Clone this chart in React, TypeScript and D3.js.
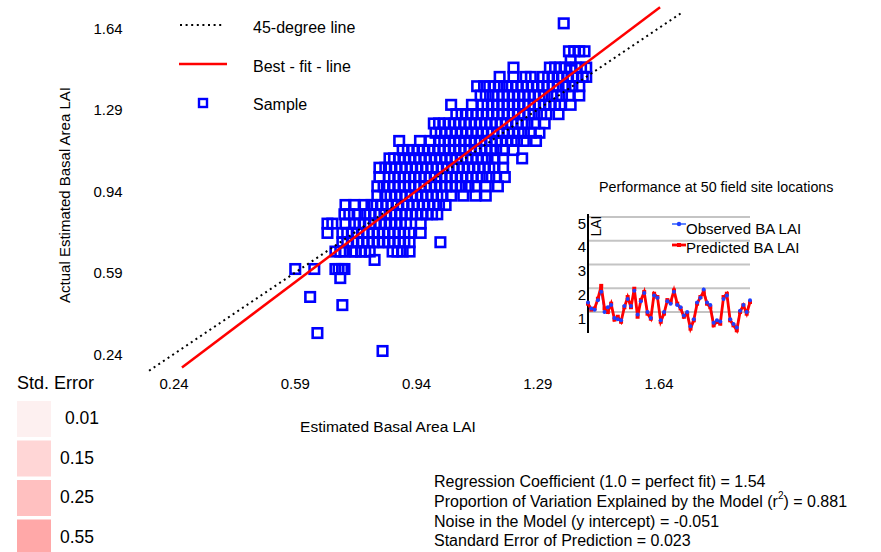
import React from "react";
import * as d3 from "d3";

const W = 881;
const H = 552;
const FONT = "'Liberation Sans', Arial, Helvetica, sans-serif";

const xTicks = [0.24, 0.59, 0.94, 1.29, 1.64];
const yTicks = [0.24, 0.59, 0.94, 1.29, 1.64];

// Sample points, grouped by row: [actual (y), estimated values (x)]
const sampleRows: [number, number[]][] = [
  [1.66, [1.365]],
  [1.54, [1.38, 1.395, 1.41, 1.425]],
  [1.5, [1.385]],
  [1.47, [1.22, 1.325, 1.34, 1.355, 1.37, 1.385, 1.4, 1.415, 1.43]],
  [1.43, [1.18, 1.22, 1.255, 1.27, 1.305, 1.32, 1.335, 1.35, 1.36, 1.375, 1.39, 1.405, 1.42, 1.43]],
  [1.39, [1.115, 1.135, 1.15, 1.165, 1.18, 1.2, 1.215, 1.23, 1.245, 1.26, 1.275, 1.29, 1.305, 1.32, 1.335, 1.35, 1.37, 1.39, 1.41]],
  [1.35, [1.125, 1.14, 1.16, 1.175, 1.19, 1.205, 1.22, 1.235, 1.25, 1.265, 1.28, 1.295, 1.31, 1.33, 1.345, 1.36, 1.38, 1.41]],
  [1.31, [1.04, 1.1, 1.13, 1.145, 1.16, 1.175, 1.19, 1.205, 1.22, 1.235, 1.25, 1.265, 1.28, 1.295, 1.31, 1.325, 1.34, 1.355, 1.385]],
  [1.27, [1.055, 1.07, 1.085, 1.1, 1.115, 1.13, 1.145, 1.16, 1.175, 1.19, 1.205, 1.22, 1.235, 1.25, 1.265, 1.28, 1.3, 1.315, 1.35]],
  [1.23, [0.99, 1.005, 1.02, 1.035, 1.05, 1.065, 1.08, 1.095, 1.11, 1.125, 1.14, 1.155, 1.17, 1.185, 1.2, 1.215, 1.23, 1.245, 1.26, 1.28, 1.31]],
  [1.19, [0.995, 1.01, 1.025, 1.04, 1.055, 1.07, 1.085, 1.1, 1.115, 1.13, 1.145, 1.16, 1.175, 1.19, 1.205, 1.22, 1.235, 1.25, 1.27, 1.295]],
  [1.155, [0.89, 0.95, 0.98, 1.005, 1.02, 1.035, 1.05, 1.065, 1.08, 1.095, 1.11, 1.125, 1.14, 1.155, 1.17, 1.185, 1.2, 1.215, 1.23, 1.25, 1.285]],
  [1.116, [0.9, 0.915, 0.93, 0.945, 0.96, 0.975, 0.99, 1.005, 1.02, 1.035, 1.05, 1.065, 1.08, 1.095, 1.11, 1.125, 1.14, 1.155, 1.17, 1.19, 1.22]],
  [1.08, [0.862, 0.875, 0.89, 0.905, 0.92, 0.935, 0.95, 0.965, 0.98, 0.995, 1.01, 1.025, 1.04, 1.055, 1.07, 1.085, 1.1, 1.115, 1.13, 1.145, 1.165, 1.19, 1.245]],
  [1.04, [0.833, 0.85, 0.865, 0.88, 0.895, 0.91, 0.925, 0.94, 0.955, 0.97, 0.985, 1.0, 1.015, 1.03, 1.045, 1.06, 1.075, 1.09, 1.105, 1.12, 1.135, 1.15, 1.165, 1.19]],
  [1.0, [0.833, 0.86, 0.875, 0.89, 0.905, 0.92, 0.935, 0.95, 0.965, 0.98, 0.995, 1.01, 1.025, 1.04, 1.055, 1.07, 1.085, 1.1, 1.115, 1.13, 1.15, 1.17, 1.195]],
  [0.96, [0.827, 0.845, 0.86, 0.875, 0.89, 0.905, 0.92, 0.935, 0.95, 0.965, 0.98, 0.995, 1.01, 1.025, 1.04, 1.055, 1.07, 1.09, 1.11, 1.14, 1.175]],
  [0.92, [0.827, 0.85, 0.865, 0.88, 0.895, 0.91, 0.925, 0.94, 0.955, 0.97, 0.985, 1.0, 1.015, 1.04, 1.075, 1.11, 1.14]],
  [0.88, [0.735, 0.76, 0.79, 0.81, 0.825, 0.84, 0.855, 0.87, 0.885, 0.9, 0.915, 0.93, 0.945, 0.96, 0.975, 0.99, 1.005, 1.024]],
  [0.84, [0.732, 0.746, 0.77, 0.79, 0.805, 0.82, 0.835, 0.85, 0.865, 0.88, 0.895, 0.91, 0.925, 0.94, 0.955, 0.97, 0.985, 1.0]],
  [0.8, [0.683, 0.697, 0.735, 0.76, 0.775, 0.79, 0.805, 0.82, 0.835, 0.85, 0.865, 0.88, 0.895, 0.91, 0.952]],
  [0.76, [0.683, 0.726, 0.74, 0.755, 0.77, 0.785, 0.8, 0.815, 0.83, 0.845, 0.86, 0.875, 0.89, 0.905, 0.92, 0.952]],
  [0.72, [0.726, 0.74, 0.755, 0.77, 0.785, 0.8, 0.815, 0.83, 0.845, 0.86, 0.875, 0.89, 0.905, 0.92, 1.009]],
  [0.68, [0.706, 0.72, 0.732, 0.755, 0.764, 0.78, 0.792, 0.805, 0.871, 0.885, 0.9, 0.92]],
  [0.644, [0.819]],
  [0.605, [0.59, 0.645, 0.706, 0.715, 0.725, 0.732]],
  [0.566, [0.72]],
  [0.485, [0.633]],
  [0.45, [0.726]],
  [0.33, [0.654]],
  [0.253, [0.842]],
];

// Reference lines
const diagRange = [0.168, 1.709];
const fitSlope = 1.121;
const fitIntercept = -0.1125;
const fitRange = [0.263, 1.643];

// Inset: performance at 50 field site locations
const insetTicks = [1, 2, 3, 4, 5];
const predicted = [1.35, 1.1, 1.15, 1.56, 2.1, 1.15, 1.0, 1.35, 0.68, 0.8, 0.59, 1.2, 1.63, 1.2, 1.98, 0.8, 1.5, 1.84, 0.93, 0.72, 1.77, 1.63, 0.59, 0.93, 1.5, 1.42, 1.91, 1.35, 1.15, 0.8, 0.93, 0.3, 0.65, 1.35, 1.63, 1.84, 1.35, 1.2, 0.44, 0.59, 0.51, 1.63, 1.77, 0.65, 0.44, 0.23, 1.0, 1.28, 0.93, 1.42];
const observed = [1.4, 1.15, 1.1, 1.5, 1.85, 1.0, 1.2, 1.3, 0.75, 0.7, 0.65, 1.25, 1.55, 1.25, 1.9, 0.9, 1.45, 1.8, 1.0, 0.75, 1.7, 1.6, 0.65, 1.0, 1.45, 1.35, 1.85, 1.3, 1.2, 0.85, 1.0, 0.4, 0.7, 1.4, 1.6, 1.95, 1.4, 1.3, 0.55, 0.65, 0.6, 1.55, 1.7, 0.7, 0.5, 0.35, 1.05, 1.3, 1.0, 1.5];

// Std. error legend
const seLabels = ["0.01", "0.15", "0.25", "0.55"];
const seColors = ["#fdf0f0", "#ffd6d6", "#ffc0c0", "#ffa8a8"];

export default function App() {
  const x = d3.scaleLinear().domain([0.24, 1.64]).range([174, 659]);
  const y = d3.scaleLinear().domain([0.24, 1.64]).range([354, 28]);

  const samples: [number, number][] = [];
  sampleRows.forEach(([yv, xs]) => xs.forEach((xv) => samples.push([xv, yv])));

  const line = d3
    .line<[number, number]>()
    .x((d) => x(d[0]))
    .y((d) => y(d[1]));
  const diag: [number, number][] = diagRange.map((v) => [v, v]);
  const fit: [number, number][] = fitRange.map((v) => [v, fitSlope * v + fitIntercept]);

  const ix = d3.scaleLinear().domain([0, 49]).range([588, 750]);
  const iy = d3.scaleLinear().domain([1, 5]).range([312, 217]);
  const iline = d3
    .line<number>()
    .x((_, i) => ix(i))
    .y((d) => iy(d));

  const sq = 9.5;

  return (
    <svg
      width={W}
      height={H}
      style={{ position: "absolute", left: 0, top: 0, background: "#fff" }}
      fontFamily={FONT}
    >
      <rect x={0} y={0} width={W} height={H} fill="#fff" />

      {/* samples */}
      <g fill="none" stroke="#0000ff" strokeWidth={2.6}>
        {samples.map((d, i) => (
          <rect key={i} x={x(d[0]) - sq / 2} y={y(d[1]) - sq / 2} width={sq} height={sq} />
        ))}
      </g>

      {/* lines */}
      <path d={line(diag) || ""} fill="none" stroke="#000" strokeWidth={2} strokeDasharray="2 3.6" />
      <path d={line(fit) || ""} fill="none" stroke="#ff0000" strokeWidth={2.5} />

      {/* ticks */}
      <g fontSize={15} fill="#000">
        {yTicks.map((t) => (
          <text key={"y" + t} x={108} y={y(t)} textAnchor="middle" dominantBaseline="central">
            {t.toFixed(2)}
          </text>
        ))}
        {xTicks.map((t) => (
          <text key={"x" + t} x={x(t)} y={383} textAnchor="middle" dominantBaseline="central">
            {t.toFixed(2)}
          </text>
        ))}
      </g>
      <text x={388} y={426} fontSize={15.5} textAnchor="middle" dominantBaseline="central">
        Estimated Basal Area LAI
      </text>
      <text
        transform="translate(64,195) rotate(-90)"
        fontSize={15}
        textAnchor="middle"
        dominantBaseline="central"
      >
        Actual Estimated Basal Area LAI
      </text>

      {/* top-left legend */}
      <g fontSize={16}>
        <line x1={180} x2={222} y1={25} y2={25} stroke="#000" strokeWidth={2} strokeDasharray="2 3.6" />
        <text x={253} y={27} dominantBaseline="central">45-degree line</text>
        <line x1={179} x2={227} y1={64} y2={64} stroke="#ff0000" strokeWidth={2.5} />
        <text x={253} y={66} dominantBaseline="central">Best - fit - line</text>
        <rect x={199} y={99} width={8} height={8} fill="none" stroke="#0000ff" strokeWidth={2.4} />
        <text x={253} y={104} dominantBaseline="central">Sample</text>
      </g>

      {/* inset */}
      <text x={599} y={187} fontSize={14.3} dominantBaseline="central">
        Performance at 50 field site locations
      </text>
      {insetTicks.map((t) => (
        <line key={"g" + t} x1={588} x2={750} y1={iy(t)} y2={iy(t)} stroke="#c4c4c4" strokeWidth={2} />
      ))}
      <line x1={588} x2={588} y1={214} y2={333} stroke="#000" strokeWidth={2} />
      {insetTicks.map((t) => (
        <text key={"it" + t} x={586} y={iy(t) + 6} fontSize={15} textAnchor="end" dominantBaseline="central">
          {t}
        </text>
      ))}
      <text transform="translate(596,226) rotate(-90)" fontSize={14} textAnchor="middle" dominantBaseline="central">
        LAI
      </text>
      <path d={iline(observed) || ""} fill="none" stroke="#2a5cff" strokeWidth={1.5} />
      <path d={iline(predicted) || ""} fill="none" stroke="#ff0000" strokeWidth={2.8} />
      {predicted.map((v, i) => (
        <rect key={"p" + i} x={ix(i) - 2} y={iy(v) - 2} width={4} height={4} fill="#ff0000" />
      ))}
      {observed.map((v, i) => (
        <circle key={"o" + i} cx={ix(i)} cy={iy(v)} r={2} fill="#1f3fff" />
      ))}
      <g fontSize={15}>
        <line x1={672} x2={686} y1={224} y2={224} stroke="#2a5cff" strokeWidth={1.5} />
        <circle cx={679} cy={224} r={2.2} fill="#1f3fff" />
        <text x={686} y={228} dominantBaseline="central">Observed BA LAI</text>
        <line x1={672} x2={686} y1={245} y2={245} stroke="#ff0000" strokeWidth={2.8} />
        <rect x={677} y={243} width={4} height={4} fill="#ff0000" />
        <text x={686} y={247} dominantBaseline="central">Predicted BA LAI</text>
      </g>

      {/* std error legend */}
      <text x={17} y={383} fontSize={18} dominantBaseline="central">Std. Error</text>
      {seLabels.map((l, i) => (
        <g key={l}>
          <rect x={17} y={401 + i * 39.5} width={34} height={36} fill={seColors[i]} />
          <text x={i === 0 ? 65 : 60} y={418 + i * 39.5} fontSize={17.5} dominantBaseline="central">
            {l}
          </text>
        </g>
      ))}

      {/* stats */}
      <g fontSize={16}>
        <text x={434} y={481} dominantBaseline="central">Regression Coefficient (1.0 = perfect fit) = 1.54</text>
        <text x={434} y={501} dominantBaseline="central">
          Proportion of Variation Explained by the Model (r
          <tspan fontSize={10} dy={-6}>2</tspan>
          <tspan dy={6}>) = 0.881</tspan>
        </text>
        <text x={434} y={521} dominantBaseline="central">Noise in the Model (y intercept) = -0.051</text>
        <text x={434} y={540} dominantBaseline="central">Standard Error of Prediction = 0.023</text>
      </g>
    </svg>
  );
}
